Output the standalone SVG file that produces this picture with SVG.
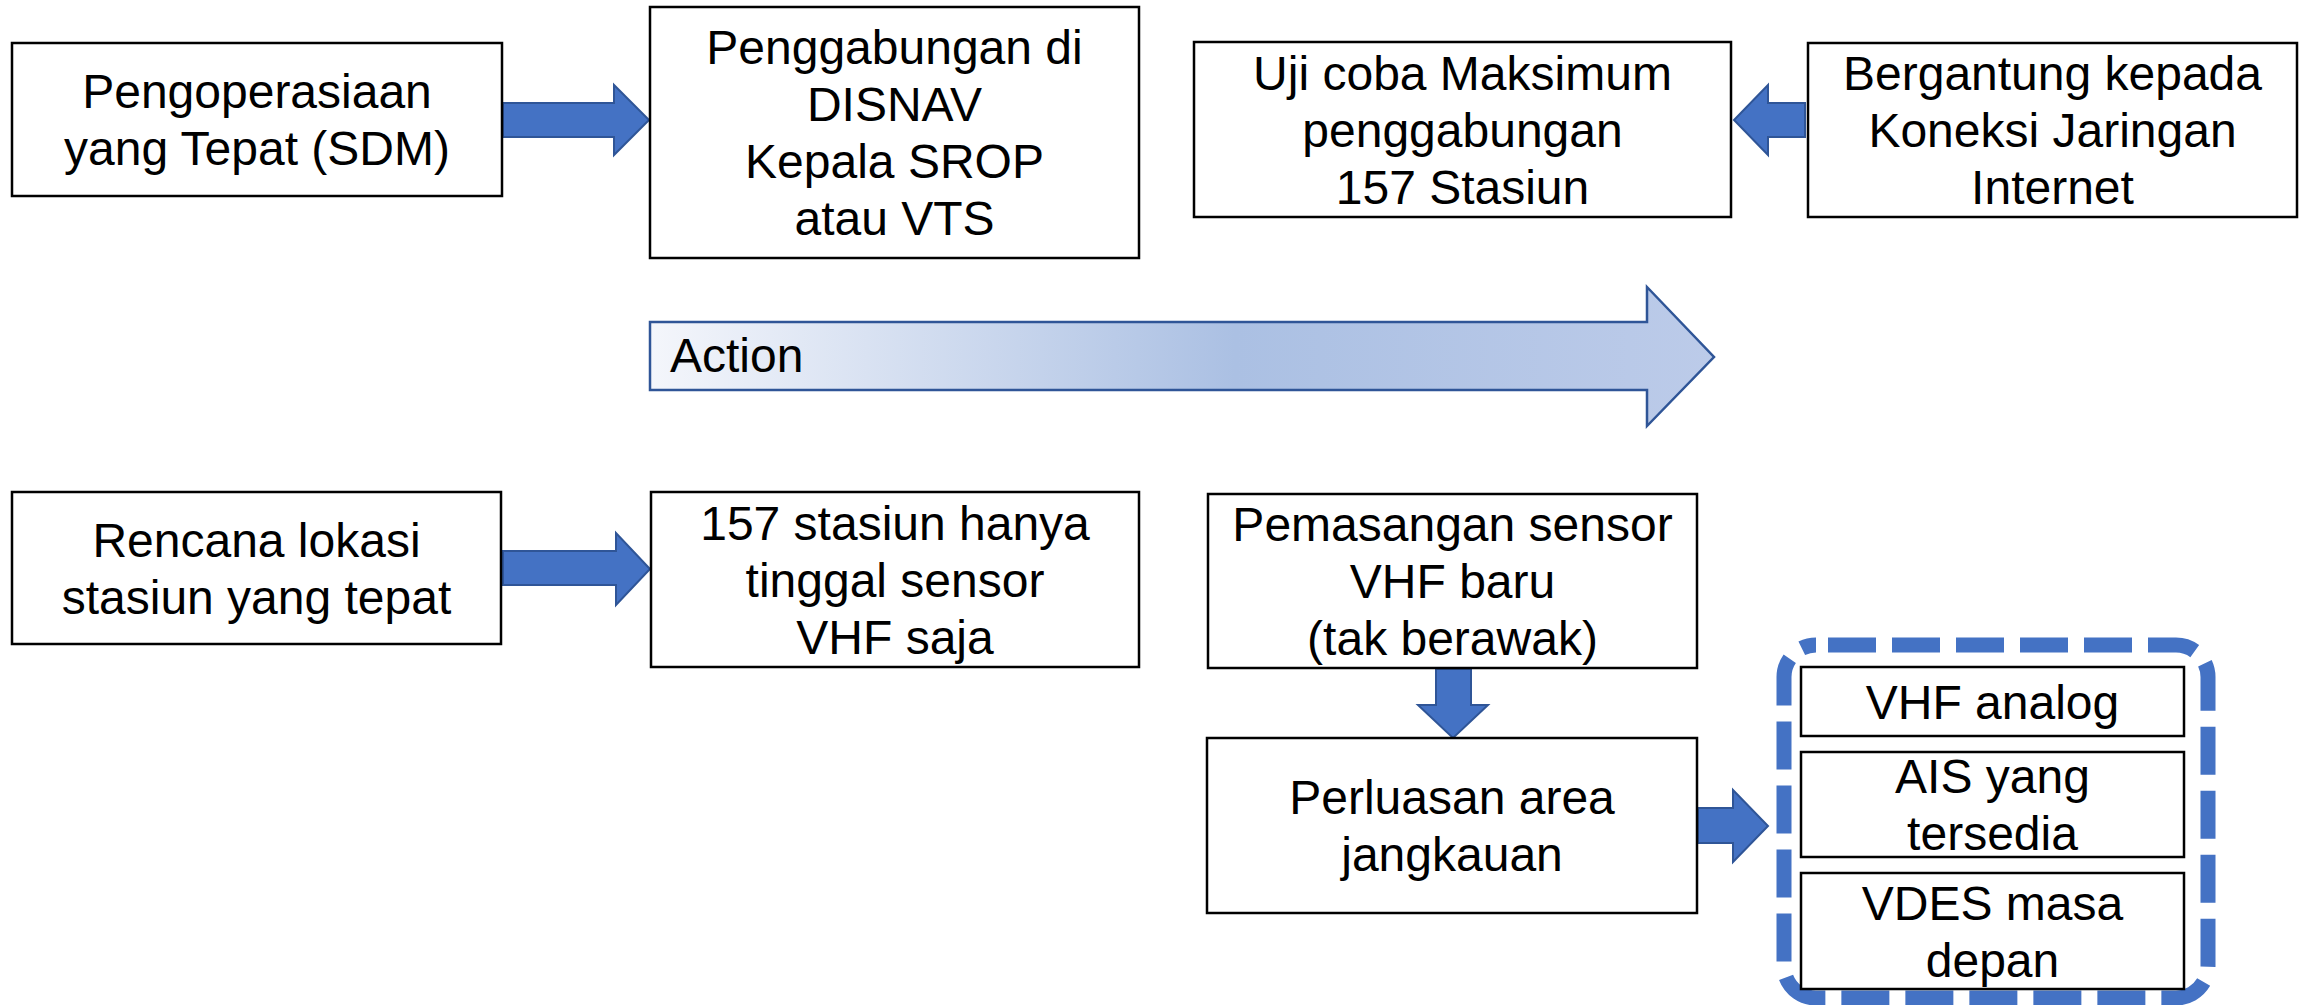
<svg xmlns="http://www.w3.org/2000/svg" width="2305" height="1005" viewBox="0 0 2305 1005">
  <style>
    .box { fill: #ffffff; stroke: #000000; stroke-width: 2.5; }
    .lbl { font-family: "Liberation Sans", Arial, sans-serif; font-size: 48px; fill: #000000; text-anchor: middle; }
    .arrow { fill: #4472c4; stroke: #2f5597; stroke-width: 2; stroke-linejoin: miter; }
    .group-frame { fill: none; stroke: #4472c4; stroke-width: 15; stroke-dasharray: 48 16; stroke-dashoffset: 52; }
  </style>
  <defs>
    <linearGradient id="actionFill" gradientUnits="userSpaceOnUse" x1="650" y1="0" x2="1714" y2="0">
      <stop offset="0" stop-color="#f4f6fb"/>
      <stop offset="0.55" stop-color="#abc0e3"/>
      <stop offset="1" stop-color="#bccbe9"/>
    </linearGradient>
  </defs>

  <rect width="2305" height="1005" fill="#ffffff"/>

  <!-- connectors -->
  <g id="connectors">
    <polygon class="arrow" points="503,103 614,103 614,85 649,120 614,155 614,137 503,137"/>
    <polygon class="arrow" points="1805,103 1768,103 1768,85 1734,120 1768,155 1768,137 1805,137"/>
    <polygon class="arrow" points="503,551 616,551 616,533 650,569 616,605 616,585 503,585"/>
    <polygon class="arrow" points="1436,669 1471,669 1471,705 1488,705 1453,738 1418,705 1436,705"/>
    <polygon class="arrow" points="1698,808 1733,808 1733,790 1768,826 1733,862 1733,843 1698,843"/>
  </g>

  <!-- timeline arrow -->
  <g id="action">
    <polygon points="650,322 1647,322 1647,287 1714,357 1647,426 1647,390 650,390" fill="url(#actionFill)" stroke="#2f5597" stroke-width="2.5"/>
    <text class="lbl" x="670" y="372" style="text-anchor:start">Action</text>
  </g>

  <g id="sdm">
    <rect class="box" x="12" y="43" width="490" height="153"/>
    <text class="lbl" x="257" y="108">Pengoperasiaan</text>
    <text class="lbl" x="257" y="165">yang Tepat (SDM)</text>
  </g>

  <g id="penggabungan">
    <rect class="box" x="650" y="7" width="489" height="251"/>
    <text class="lbl" x="894.5" y="64">Penggabungan di</text>
    <text class="lbl" x="894.5" y="121">DISNAV</text>
    <text class="lbl" x="894.5" y="178">Kepala SROP</text>
    <text class="lbl" x="894.5" y="235">atau VTS</text>
  </g>

  <g id="uji-coba">
    <rect class="box" x="1194" y="42" width="537" height="175"/>
    <text class="lbl" x="1462.5" y="89.5">Uji coba Maksimum</text>
    <text class="lbl" x="1462.5" y="146.5">penggabungan</text>
    <text class="lbl" x="1462.5" y="203.5">157 Stasiun</text>
  </g>

  <g id="koneksi">
    <rect class="box" x="1808" y="43" width="489" height="174"/>
    <text class="lbl" x="2052.5" y="90">Bergantung kepada</text>
    <text class="lbl" x="2052.5" y="147">Koneksi Jaringan</text>
    <text class="lbl" x="2052.5" y="204">Internet</text>
  </g>

  <g id="rencana-lokasi">
    <rect class="box" x="12" y="492" width="489" height="152"/>
    <text class="lbl" x="256.5" y="556.5">Rencana lokasi</text>
    <text class="lbl" x="256.5" y="613.5">stasiun yang tepat</text>
  </g>

  <g id="sensor-vhf">
    <rect class="box" x="651" y="492" width="488" height="175"/>
    <text class="lbl" x="895" y="539.5">157 stasiun hanya</text>
    <text class="lbl" x="895" y="596.5">tinggal sensor</text>
    <text class="lbl" x="895" y="653.5">VHF saja</text>
  </g>

  <g id="pemasangan">
    <rect class="box" x="1208" y="494" width="489" height="174"/>
    <text class="lbl" x="1452.5" y="541">Pemasangan sensor</text>
    <text class="lbl" x="1452.5" y="598">VHF baru</text>
    <text class="lbl" x="1452.5" y="655">(tak berawak)</text>
  </g>

  <g id="perluasan">
    <rect class="box" x="1207" y="738" width="490" height="175"/>
    <text class="lbl" x="1452" y="814">Perluasan area</text>
    <text class="lbl" x="1452" y="871">jangkauan</text>
  </g>

  <!-- coverage technologies -->
  <g id="teknologi">
    <rect class="group-frame" x="1784" y="645" width="424" height="353" rx="32" ry="32"/>
    <g id="vhf-analog">
      <rect class="box" x="1801" y="667" width="383" height="69"/>
      <text class="lbl" x="1992.5" y="718.5">VHF analog</text>
    </g>
    <g id="ais">
      <rect class="box" x="1801" y="752" width="383" height="105"/>
      <text class="lbl" x="1992.5" y="793">AIS yang</text>
      <text class="lbl" x="1992.5" y="850">tersedia</text>
    </g>
    <g id="vdes">
      <rect class="box" x="1801" y="873" width="383" height="116"/>
      <text class="lbl" x="1992.5" y="919.5">VDES masa</text>
      <text class="lbl" x="1992.5" y="976.5">depan</text>
    </g>
  </g>
</svg>
